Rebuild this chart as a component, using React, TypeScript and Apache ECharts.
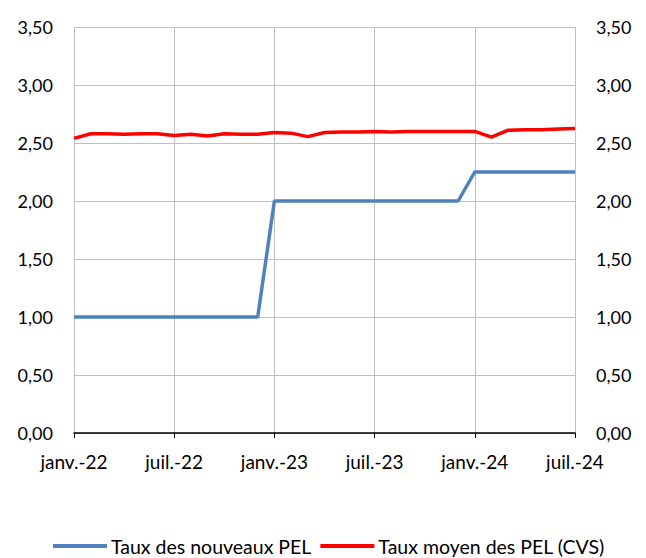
import React, { useEffect, useRef } from "react";
import * as echarts from "echarts";

const months = ["janv.", "févr.", "mars", "avr.", "mai", "juin", "juil.", "août", "sept.", "oct.", "nov.", "déc."];
const years = ["22", "23", "24"];
const categories: string[] = [];
for (const y of years) for (const m of months) categories.push(`${m}-${y}`);
categories.length = 31;

const nouveauxPEL = [
  1.0, 1.0, 1.0, 1.0, 1.0, 1.0, 1.0, 1.0, 1.0, 1.0, 1.0, 1.0,
  2.0, 2.0, 2.0, 2.0, 2.0, 2.0, 2.0, 2.0, 2.0, 2.0, 2.0, 2.0,
  2.25, 2.25, 2.25, 2.25, 2.25, 2.25, 2.25,
];
const moyenPEL = [
  2.54, 2.58, 2.58, 2.575, 2.58, 2.58, 2.565, 2.575, 2.56, 2.58, 2.575, 2.575,
  2.59, 2.585, 2.555, 2.59, 2.595, 2.595, 2.6, 2.595, 2.6, 2.6, 2.6, 2.6,
  2.6, 2.55, 2.61, 2.615, 2.615, 2.62, 2.625,
];

const fmt = (v: number) => v.toFixed(2).replace(".", ",");
const FONT = "Lato";

export default function App() {
  const ref = useRef<HTMLDivElement>(null);
  useEffect(() => {
    const chart = echarts.init(ref.current!, undefined, { renderer: "svg" });
    const yAxisBase = {
      type: "value" as const,
      min: 0,
      max: 3.5,
      interval: 0.5,
      axisLine: { show: false },
      axisTick: { show: false },
      axisLabel: { formatter: fmt, color: "#000", fontSize: 18, fontFamily: FONT, margin: 21 },
    };
    chart.setOption({
      animation: false,
      textStyle: { fontFamily: FONT },
      grid: { left: 74, right: 71, top: 27, bottom: 125, containLabel: false },
      legend: {
        top: 534,
        left: 53,
        icon: "rect",
        itemWidth: 54,
        itemHeight: 4,
        itemGap: 9,
        padding: 0,
        itemStyle: { borderWidth: 0 },
        textStyle: { fontSize: 19.5, lineHeight: 24, color: "#000", fontFamily: FONT, padding: [0, 0, 0, -1] },
        data: ["Taux des nouveaux PEL", "Taux moyen des PEL (CVS)"],
      },
      xAxis: {
        type: "category",
        data: categories,
        boundaryGap: false,
        axisLine: { lineStyle: { color: "#000", width: 1.5 } },
        axisTick: { interval: 5, length: 5, lineStyle: { color: "#000" }, inside: false },
        axisLabel: { interval: 5, color: "#000", fontSize: 19, fontFamily: FONT, margin: 19 },
        splitLine: { show: true, interval: 5, lineStyle: { color: "#c0c0c0", width: 1 } },
      },
      yAxis: [
        { ...yAxisBase, position: "left", splitLine: { show: true, lineStyle: { color: "#c0c0c0", width: 1 } } },
        { ...yAxisBase, position: "right", splitLine: { show: false } },
      ],
      series: [
        {
          name: "Taux des nouveaux PEL",
          type: "line",
          data: nouveauxPEL,
          showSymbol: false,
          symbol: "none",
          lineStyle: { color: "#4F81BD", width: 3.5 },
          itemStyle: { color: "#4F81BD" },
        },
        {
          name: "Taux moyen des PEL (CVS)",
          type: "line",
          data: moyenPEL,
          showSymbol: false,
          symbol: "none",
          lineStyle: { color: "#FF0000", width: 3.5 },
          itemStyle: { color: "#FF0000" },
        },
      ],
    });
    return () => chart.dispose();
  }, []);
  return <div ref={ref} style={{ width: 646, height: 558, position: "absolute", left: 0, top: 0 }} />;
}
